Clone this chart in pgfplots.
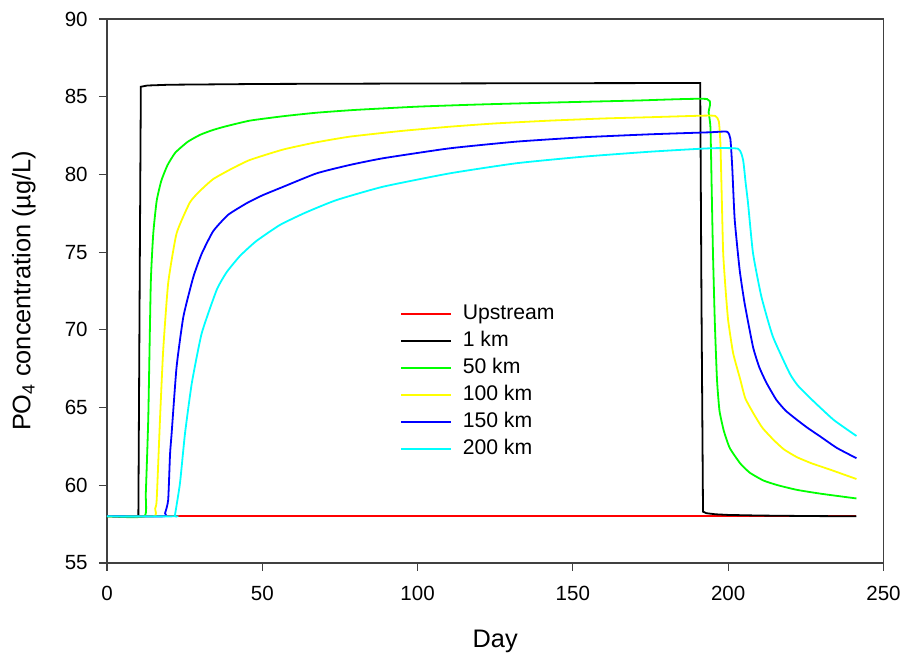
\documentclass[border=0pt]{standalone}
\usepackage{pgfplots}
\pgfplotsset{compat=1.18}
\usepackage{fontspec}
\setmainfont{Liberation Sans}

\definecolor{c50}{RGB}{0,255,0}
\definecolor{c100}{RGB}{255,255,0}
\definecolor{c150}{RGB}{0,0,255}
\definecolor{c200}{RGB}{0,255,255}

\begin{document}
\begin{tikzpicture}
\begin{axis}[
    scale only axis,
    width=582.4pt, height=408pt,
    xmin=0, xmax=250, ymin=55, ymax=90,
    xtick={0,50,...,250}, ytick={55,60,...,90},
    tick align=outside,
    xtick pos=bottom, ytick pos=left,
    major tick length=6pt,
    axis line style={black!75, line width=0.9pt},
    every tick/.style={black!75, line width=0.9pt},
    /pgf/number format/assume math mode=true,
    tick label style={font=\fontsize{15.4}{18}\selectfont},
    xticklabel style={yshift=-8pt},
    yticklabel style={xshift=-5pt},
    label style={font=\fontsize{19}{22}\selectfont},
    xlabel={Day},
    ylabel={PO\textsubscript{4} concentration (µg/L)},
    xlabel style={yshift=-15pt},
    ylabel style={yshift=15pt},
    legend style={
        at={(axis cs:93,72.0)}, anchor=north west,
        draw=none, fill=none,
        font=\fontsize{15.9}{18}\selectfont,
        nodes={text height=11.5pt, text depth=3pt, inner sep=2pt},
        row sep=1.75pt,
        column sep=6pt,
    },
    legend cell align=left,
    legend image code/.code={\draw[#1] (0pt,0pt) -- (37.5pt,0pt);},
    every axis plot/.append style={line width=1.35pt},
]
% legend keys
\addlegendimage{red, line width=1.5pt}
\addlegendentry{Upstream}
\addlegendimage{black, line width=1.5pt}
\addlegendentry{1 km}
\addlegendimage{c50, line width=1.5pt}
\addlegendentry{50 km}
\addlegendimage{c100, line width=1.5pt}
\addlegendentry{100 km}
\addlegendimage{c150, line width=1.5pt}
\addlegendentry{150 km}
\addlegendimage{c200, line width=1.5pt}
\addlegendentry{200 km}

% upstream boundary
\addplot[red, forget plot] coordinates {(0,58) (241.3,58)};
% 1 km
\addplot[black, forget plot] coordinates {
(0,58) (10.1,58) (10.5,72) (10.9,85.64) (13,85.72) (20,85.77) (50,85.82)
(100,85.85) (150,85.87) (191.0,85.88) (191.4,72) (191.9,58.3) (193,58.2)
(196,58.13) (200,58.09) (210,58.05) (225,58.02) (241.3,58.0)};
% 50 km
\addplot[c50, smooth, tension=0.3, forget plot] coordinates {
(0,58) (12.0,58) (12.5,59.5) (13.3,64.4) (14.1,73) (14.9,76.2) (16.0,78.3)
(17.5,79.6) (19.5,80.6) (22,81.4) (26,82.1) (30,82.55) (34,82.85) (38,83.08)
(46,83.46) (57,83.75) (67.5,83.97) (80,84.15) (100,84.36) (120,84.5)
(142.6,84.62) (170,84.75) (193.2,84.85) (193.7,84.0) (194.3,83.0) (194.7,79)
(195.1,75) (195.7,70.5) (196.4,66.8) (197.2,64.8) (198.6,63.5) (200.5,62.4)
(203.9,61.4) (207,60.8) (211.4,60.3) (216,60.0) (222.2,59.7) (230,59.45)
(241.3,59.15)};
% 100 km
\addplot[c100, smooth, tension=0.3, forget plot] coordinates {
(0,58) (15.1,58) (15.5,58.5) (16,59.05) (17.1,64.4) (18.1,68.7) (19.7,73)
(22.4,76.2) (26.7,78.2) (30,78.95) (34.2,79.7) (40,80.35) (46,80.93)
(56.7,81.6) (67,82.05) (78.2,82.43) (95,82.8) (110.4,83.07) (125,83.28)
(142.6,83.46) (160,83.6) (174.8,83.68) (191.9,83.78) (195.9,83.76)
(197.0,83.4) (197.5,82) (198.0,78) (198.4,74.9) (199.2,72.5) (200,70.6)
(201.6,68.5) (203.9,66.8) (205.5,65.6) (208.2,64.6) (211,63.7) (214.7,62.9)
(218,62.3) (222.2,61.8) (227,61.4) (232.9,61.0) (241.3,60.4)};
% 150 km
\addplot[c150, smooth, tension=0.3, forget plot] coordinates {
(0,58) (18.2,58) (18.7,58.2) (19.7,59.05) (20.3,62.0) (20.8,63.3)
(22.4,67.6) (24.6,70.85) (27.8,73.4) (30.5,74.9) (34.2,76.35) (39,77.4)
(45,78.15) (50,78.65) (56.7,79.2) (67.5,80.07) (78,80.6) (88.9,81.04)
(110.4,81.68) (131.9,82.11) (153.3,82.39) (174.8,82.58) (194.1,82.71)
(199.6,82.75) (200.7,82.3) (201.3,80.5) (202.1,77.1) (203.7,73.85)
(205.3,71.7) (208,68.9) (210,67.6) (212.3,66.6) (215.5,65.5) (218.5,64.8)
(222.2,64.2) (225.5,63.7) (229.7,63.13) (235,62.4) (241.3,61.74)};
% 200 km
\addplot[c200, smooth, tension=0.3, forget plot] coordinates {
(0,58) (21.7,58) (21.9,58.1) (23.5,60.13) (25.1,63.3) (27.3,66.56)
(30.5,69.78) (35.3,72.56) (38.5,73.7) (42.8,74.75) (48,75.7) (55.7,76.75)
(64,77.55) (73.9,78.35) (88.9,79.21) (110.4,80.07) (131.9,80.72)
(153.3,81.14) (174.8,81.46) (194.1,81.68) (203.2,81.65) (204.8,80.93)
(205.6,79.5) (206.4,78.14) (208,74.93) (210.7,72.13) (214.4,69.56)
(219.8,67.2) (222.5,66.4) (227.5,65.4) (234,64.2) (241.3,63.17)};
\end{axis}
\pgfresetboundingbox
\useasboundingbox (-80.25pt,-69pt) rectangle (597.8pt,422.25pt);
\end{tikzpicture}
\end{document}
